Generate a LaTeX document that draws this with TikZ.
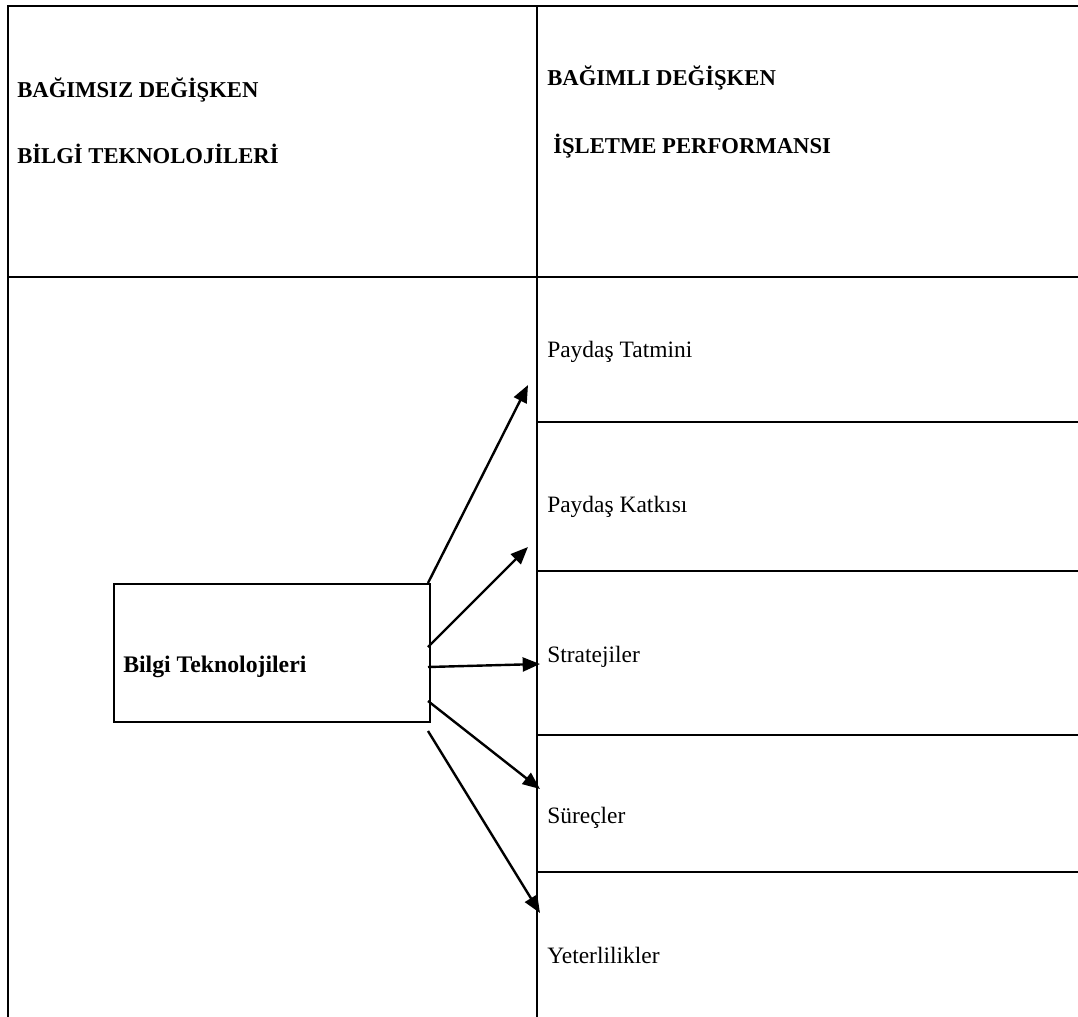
\documentclass[tikz,border=0pt]{standalone}
\usepackage{fontspec}
\setmainfont{Liberation Serif}
\usetikzlibrary{arrows.meta}
\begin{document}
\begin{tikzpicture}[x=0.75pt,y=-0.75pt,
  rule/.style={line width=2pt},
  thin rule/.style={line width=1.7pt},
  hdr/.style={anchor=base west,inner sep=0pt,font=\fontsize{17}{20}\selectfont\bfseries},
  item/.style={anchor=base west,inner sep=0pt,font=\fontsize{17.6}{20}\selectfont},
  conn/.style={line width=1.8pt,-{Triangle[length=13pt,width=10.5pt]}},
  bbox/.style={draw,line width=1.8pt,anchor=north west,inner sep=0pt,minimum width=237pt,minimum height=103.5pt}]
\useasboundingbox (0,0) rectangle (1078,1017);
% table frame
\draw[rule] (8,1017) -- (8,6) -- (1078,6);
\draw[rule] (537,6) -- (537,1017);
\draw[rule] (8,277) -- (1078,277);
\foreach \yy in {422,571,735,872} \draw[thin rule] (537,\yy) -- (1078,\yy);
% headers
\node[hdr] (h1) at (17,97) {BAĞIMSIZ DEĞİŞKEN};
\node[hdr] (h2) at (17,163) {BİLGİ TEKNOLOJİLERİ};
\node[hdr] (h3) at (547,85) {BAĞIMLI DEĞİŞKEN};
\node[hdr] (h4) at (553,153) {İŞLETME PERFORMANSI};
% items
\node[item] (i1) at (547,357) {Paydaş Tatmini};
\node[item] (i2) at (547,512) {Paydaş Katkısı};
\node[item] (i3) at (547,662) {Stratejiler};
\node[item] (i4) at (547,823) {Süreçler};
\node[item] (i5) at (547,963) {Yeterlilikler};
% box
\node[bbox] (bt) at (113,583) {};
\node[hdr,font=\fontsize{17.8}{20}\selectfont\bfseries] (btl) at (123,672) {Bilgi Teknolojileri};
% arrow ends
\coordinate (s1) at (428,583);
\coordinate (s2) at (428,647);
\coordinate (s3) at (428,667);
\coordinate (s4) at (428,701);
\coordinate (s5) at (428,731);
\coordinate (t1) at (528,385);
\coordinate (t2) at (528,547);
\coordinate (t3) at (540,664);
\coordinate (t4) at (540,789);
\coordinate (t5) at (540,913);
\foreach \k in {1,...,5} \draw[conn] (s\k) -- (t\k);
\end{tikzpicture}
\end{document}
